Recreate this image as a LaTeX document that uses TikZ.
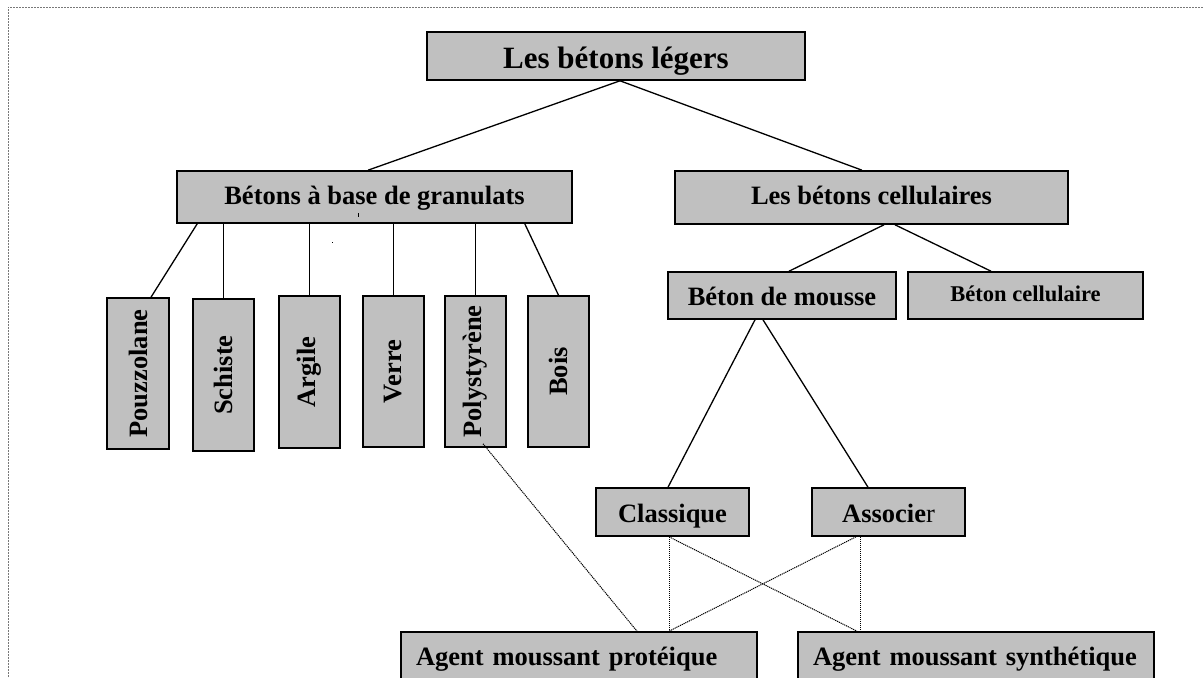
\documentclass[tikz,border=0pt]{standalone}
\usepackage{fontspec}
\setmainfont{Liberation Serif}
\usepackage{graphicx}
\usetikzlibrary{calc}
\definecolor{boxgray}{RGB}{192,192,192}
\definecolor{framegray}{RGB}{120,120,120}
\tikzset{
  box/.style={draw=black, fill=boxgray, line width=1.6pt, inner sep=0pt, align=center,
    font=\bfseries\fontsize{26.5}{30}\selectfont},
  hbox/.style={box, text depth=0pt, text height=20pt},
  leftbox/.style={hbox, align=left, inner xsep=15pt},
  link/.style={draw=black, line width=1.3pt},
  dotlink/.style={draw=black, line width=1pt, dash pattern=on 1.2pt off 0.8pt},
  frameline/.style={draw=framegray, line width=0.5pt, dash pattern=on 2pt off 1pt}
}
\begin{document}
\begin{tikzpicture}[x=1pt,y=-1pt]
\clip (0,0) rectangle (1204,677);
\fill[white] (0,0) rectangle (1204,677);
\draw[frameline] (8,677) -- (8,7) -- (1204,7);

% top level
\node[hbox, text height=24pt, minimum width=378pt, minimum height=48pt, font=\bfseries\fontsize{31}{34}\selectfont] (title) at (616,56) {Les bétons légers};
\node[hbox, text height=14pt, minimum width=395pt, minimum height=52pt] (gran) at (374.5,197) {Bétons à base de granulats};
\node[hbox, text height=14pt, minimum width=393pt, minimum height=53pt] (cell) at (871.5,197.5) {Les bétons cellulaires};

% aggregates
\node[box, minimum width=62pt, minimum height=151pt] (pouz) at (138,373.5) {\rotatebox{90}{Pouzzolane}};
\node[box, minimum width=61pt, minimum height=152pt] (schi) at (223.5,375) {\rotatebox{90}{Schiste}};
\node[box, minimum width=61pt, minimum height=152pt] (argi) at (309.5,372) {\rotatebox{90}{Argile}};
\node[box, minimum width=61pt, minimum height=151pt] (verr) at (393.5,371.5) {\rotatebox{90}{Verre}};
\node[box, minimum width=61pt, minimum height=151pt] (poly) at (475.5,371.5) {\rotatebox{90}{Polystyrène}};
\node[box, minimum width=61pt, minimum height=151pt] (bois) at (558.5,371.5) {\rotatebox{90}{Bois}};

% cellular
\node[hbox, minimum width=228pt, minimum height=47pt] (mousse) at (782,295.5) {Béton de mousse};
\node[hbox, text height=11pt, minimum width=235pt, minimum height=47pt, font=\bfseries\fontsize{22.5}{26}\selectfont] (bcel) at (1025.5,295.5) {Béton cellulaire};
\node[hbox, minimum width=153pt, minimum height=48pt] (clas) at (672.5,512) {Classique};
\node[hbox, minimum width=153pt, minimum height=48pt] (asso) at (888.5,512) {Associe{\mdseries r}};

% foaming agents
\node[leftbox, text height=12pt, text width=326pt, minimum height=54pt] (prot) at (579,659) {Agent moussant protéique};
\node[leftbox, text height=12pt, text width=326pt, minimum height=54pt] (synt) at (976,659) {Agent moussant synthétique};

% connectors
\draw[link] ([xshift=4pt]title.south) -- ([xshift=-6.5pt]gran.north);
\draw[link] ([xshift=4pt]title.south) -- ([xshift=-9.5pt]cell.north);

\draw[link] ([xshift=21pt]gran.south west) -- ([xshift=13pt]pouz.north);
\draw[link] (schi.north |- gran.south) -- (schi.north);
\draw[link] (argi.north |- gran.south) -- (argi.north);
\draw[link] (verr.north |- gran.south) -- (verr.north);
\draw[link] (poly.north |- gran.south) -- (poly.north);
\draw[link] ([xshift=-48pt]gran.south east) -- (bois.north);

\draw[link] ([xshift=12.5pt]cell.south) -- ([xshift=7pt]mousse.north);
\draw[link] ([xshift=23.5pt]cell.south) -- ([xshift=-34.5pt]bcel.north);

\draw[link] ([xshift=-27pt]mousse.south) -- ([xshift=-4.5pt]clas.north);
\draw[link] ([xshift=-19pt]mousse.south) -- ([xshift=-20.5pt]asso.north);

\draw[dotlink] ([xshift=7.5pt,yshift=4pt]poly.south) -- ([xshift=58pt]prot.north);
\draw[dotlink] ([xshift=-3.5pt]clas.south) -- ([xshift=90pt]prot.north);
\draw[dotlink] ([xshift=-3.5pt]clas.south) -- ([xshift=-119pt]synt.north);
\draw[dotlink] ([xshift=-32.5pt]asso.south) -- ([xshift=90pt]prot.north);
\draw[dotlink] ([xshift=-28.5pt]asso.south) -- ([xshift=-116pt]synt.north);

% small stray marks
\fill[black] (357.5,213) rectangle (359,216.5);
\fill[black] (331.5,241.5) rectangle (333,243);
\end{tikzpicture}
\end{document}
